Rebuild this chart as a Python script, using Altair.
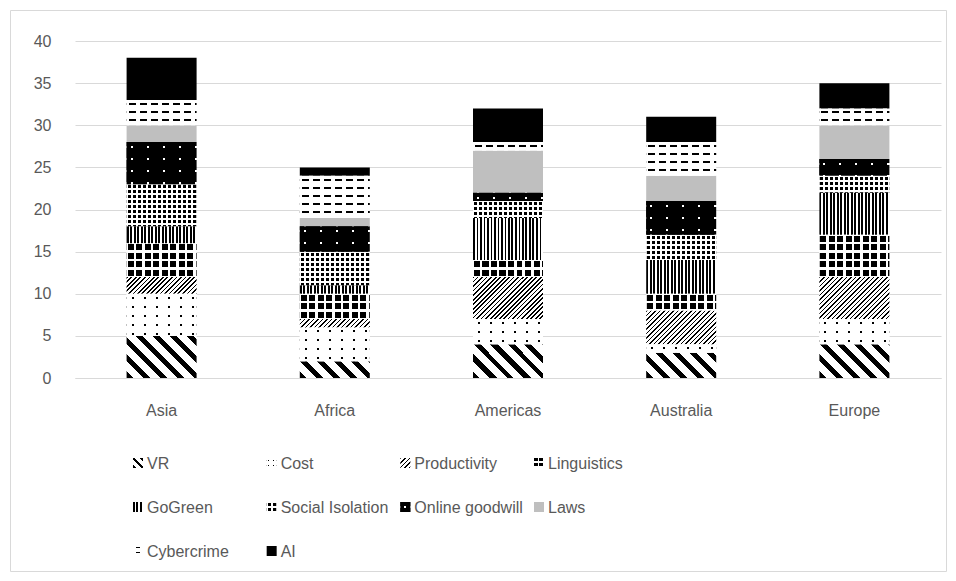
import altair as alt
import pandas as pd

# ---------------- data ----------------
regions = ["Asia", "Africa", "Americas", "Australia", "Europe"]
series = ["VR", "Cost", "Productivity", "Linguistics", "GoGreen",
          "Social Isolation", "Online goodwill", "Laws", "Cybercrime", "AI"]
vr = [5, 2, 4, 3, 4]
cost = [5, 4, 3, 1, 3]
productivity = [2, 1, 5, 4, 5]
linguistics = [4, 3, 2, 2, 5]
gogreen = [2, 1, 5, 4, 5]
social_isolation = [5, 4, 2, 3, 2]
online_goodwill = [5, 3, 1, 4, 2]
laws = [2, 1, 5, 3, 4]
cybercrime = [3, 5, 1, 4, 2]
ai = [5, 1, 4, 3, 3]
y_ticks = [0, 5, 10, 15, 20, 25, 30, 35, 40]

values_by_series = {
    "VR": vr, "Cost": cost, "Productivity": productivity, "Linguistics": linguistics,
    "GoGreen": gogreen, "Social Isolation": social_isolation,
    "Online goodwill": online_goodwill, "Laws": laws, "Cybercrime": cybercrime, "AI": ai,
}

rows = []
for j, s in enumerate(series):
    for i, r in enumerate(regions):
        rows.append({"region": r, "series": s, "value": values_by_series[s][i], "order": j})
df = pd.DataFrame(rows)
leg_df = pd.DataFrame({"series": series, "idx": list(range(len(series)))})

# ---------------- layout / style ----------------
W, H = 866, 337
Y_MAX = 40
BAR = 70
SW = 10  # legend swatch side
FONT = "Liberation Sans"
GRAY_TXT = "#595959"
GRID = "#d9d9d9"
BLACK, WHITE, CLEAR = "#000000", "#ffffff", "rgba(255,255,255,0)"


def stops_for(length, period, on, c_on, c_off, phase=0.0):
    out = []
    x = (phase % period) - period
    while x < length:
        for a, b, c in ((x, x + on, c_on), (x + on, x + period, c_off)):
            a2, b2 = max(a, 0.0), min(b, length)
            if b2 > a2:
                out.append({"offset": round(a2 / length, 5), "color": c})
                out.append({"offset": round(b2 / length, 5), "color": c})
        x += period
    return out


def lin(x1, y1, x2, y2, stops):
    return {"gradient": "linear", "x1": x1, "y1": y1, "x2": x2, "y2": y2, "stops": stops}


def hlines(w, h, period, on, c_on, c_off, phase=0.0):
    return lin(0, 0, 0, 1, stops_for(h, period, on, c_on, c_off, phase))


def vlines(w, h, period, on, c_on, c_off, phase=0.0):
    return lin(0, 0, 1, 0, stops_for(w, period, on, c_on, c_off, phase))


def diag(w, h, period, on, c_on, c_off, down=True):
    L = w + h
    A = w / L
    B = (-h / L) if down else (h / L)
    n = A * A + B * B
    gx, gy = A / n, B / n
    x1, y1 = (0, 1) if down else (0, 0)
    return lin(x1, y1, round(x1 + gx, 5), round(y1 + gy, 5), stops_for(L, period, on, c_on, c_off))


def pattern(name, w, h, small=False):
    if name == "VR":
        return diag(w, h, 17 if not small else 8, 7 if not small else 3.5, BLACK, WHITE, down=True), None
    if name == "Cost":
        if small:
            return hlines(w, h, 5, 1.5, BLACK, WHITE, 2), vlines(w, h, 5, 1.5, CLEAR, WHITE, 1)
        return hlines(w, h, 9, 2, BLACK, WHITE, 3), vlines(w, h, 12, 2, CLEAR, WHITE, 5)
    if name == "Productivity":
        return diag(w, h, 4.5, 1.6, BLACK, WHITE, down=False), None
    if name == "Linguistics":
        if small:
            return hlines(w, h, 5, 3.5, BLACK, WHITE, 0), vlines(w, h, 5, 3.5, CLEAR, WHITE, 0)
        return hlines(w, h, 8.5, 6, BLACK, WHITE, 1), vlines(w, h, 8.5, 6, CLEAR, WHITE, 1)
    if name == "GoGreen":
        return vlines(w, h, 3.5, 2, BLACK, WHITE), None
    if name == "Social Isolation":
        return hlines(w, h, 5, 3, BLACK, WHITE, 1), vlines(w, h, 5, 3, CLEAR, WHITE, 1)
    if name == "Online goodwill":
        if small:
            return hlines(w, h, 10, 2, WHITE, BLACK, 4), vlines(w, h, 10, 2, CLEAR, BLACK, 4)
        return hlines(w, h, 12, 2, WHITE, BLACK, 4), vlines(w, h, 16, 2, CLEAR, BLACK, 4)
    if name == "Laws":
        return "#bfbfbf", None
    if name == "Cybercrime":
        if small:
            return hlines(w, h, 5, 1.5, BLACK, WHITE, 1), vlines(w, h, 10, 4, CLEAR, WHITE, 3)
        return hlines(w, h, 8, 2, BLACK, WHITE, 3), vlines(w, h, 11, 7, CLEAR, WHITE, 2)
    return BLACK, None


def cond(pairs):
    return {"condition": [{"test": f"datum.k === '{k}'", "value": v} for k, v in pairs],
            "value": "transparent"}


bar_base, bar_over = [], []
for s in series:
    for i, r in enumerate(regions):
        h = values_by_series[s][i] * H / Y_MAX
        b, o = pattern(s, BAR, h)
        bar_base.append((f"{r}|{s}", b))
        if o is not None:
            bar_over.append((f"{r}|{s}", o))

leg_base, leg_over = [], []
for s in series:
    b, o = pattern(s, SW, SW, small=True)
    leg_base.append((f"L|{s}", b))
    if o is not None:
        leg_over.append((f"L|{s}", o))
overlay_series = [s for s in series if pattern(s, 10, 10)[1] is not None]

# ---------------- bars ----------------
x_scale = alt.Scale(domain=regions, paddingInner=0, paddingOuter=0)
y_scale = alt.Scale(domain=[0, Y_MAX], nice=False, zero=True)


def x_axis():
    return alt.Axis(title=None, labelAngle=0, ticks=False, domain=True, domainColor=GRID,
                    labelColor=GRAY_TXT, labelFont=FONT, labelFontSize=16, labelPadding=24)


def y_axis():
    return alt.Axis(title=None, values=y_ticks, ticks=False, domain=False, grid=True,
                    gridColor=GRID, gridWidth=1, labelColor=GRAY_TXT, labelFont=FONT,
                    labelFontSize=16, labelPadding=24)


stacked = (
    alt.Chart(df)
    .transform_stack(stack="value", groupby=["region"], as_=["v0", "v1"],
                     sort=[alt.SortField("order", order="ascending")])
    .transform_calculate(k="datum.region + '|' + datum.series")
)

base = stacked.mark_bar(size=BAR, strokeWidth=0).encode(
    x=alt.X("region:N", scale=x_scale, axis=x_axis()),
    y=alt.Y("v0:Q", scale=y_scale, axis=y_axis()),
    y2="v1:Q",
    fill=cond(bar_base),
)
over = stacked.transform_filter(
    alt.FieldOneOfPredicate(field="series", oneOf=overlay_series)
).mark_bar(size=BAR, strokeWidth=0).encode(
    x=alt.X("region:N", scale=x_scale, axis=x_axis()),
    y=alt.Y("v0:Q", scale=y_scale, axis=y_axis()),
    y2="v1:Q",
    fill=cond(bar_over),
)
frame = alt.Chart(alt.Data(values=[{"a": 1}])).mark_rect(
    fill="transparent", stroke=GRID, strokeWidth=1
).encode(
    x=alt.value(-64.5), x2=alt.value(871.5), y=alt.value(-30.5), y2=alt.value(530.5)
)
bars = alt.layer(base, over, frame)

# ---------------- legend ----------------
lx = alt.Scale(domain=[0, 3], range=[63, 464])
ly = alt.Scale(domain=[0, 2], range=[422, 510])
leg = alt.Chart(leg_df).transform_calculate(
    col="datum.idx % 4", row="floor(datum.idx / 4)", k="'L|' + datum.series"
)
leg_sw = leg.mark_square(size=SW * SW, opacity=1, strokeWidth=0).encode(
    x=alt.X("col:Q", scale=lx, axis=None),
    y=alt.Y("row:Q", scale=ly, axis=None),
    fill=cond(leg_base),
)
leg_sw2 = leg.transform_filter(
    alt.FieldOneOfPredicate(field="series", oneOf=overlay_series)
).mark_square(size=SW * SW, opacity=1, strokeWidth=0).encode(
    x=alt.X("col:Q", scale=lx, axis=None),
    y=alt.Y("row:Q", scale=ly, axis=None),
    fill=cond(leg_over),
)
leg_txt = leg.mark_text(align="left", baseline="middle", dx=9, dy=1, font=FONT,
                        fontSize=16, color=GRAY_TXT).encode(
    x=alt.X("col:Q", scale=lx, axis=None),
    y=alt.Y("row:Q", scale=ly, axis=None),
    text="series:N",
)
legend = alt.layer(leg_sw, leg_sw2, leg_txt)

chart = (
    alt.layer(bars, legend)
    .resolve_scale(x="independent", y="independent")
    .properties(
        width=W, height=H,
        autosize=alt.AutoSizeParams(type="none"),
        padding={"left": 75, "top": 41, "right": 15, "bottom": 203},
        background="white",
    )
    .configure_view(strokeWidth=0)
)

chart.save("out.html", embed_options={"renderer": "svg", "actions": False})
